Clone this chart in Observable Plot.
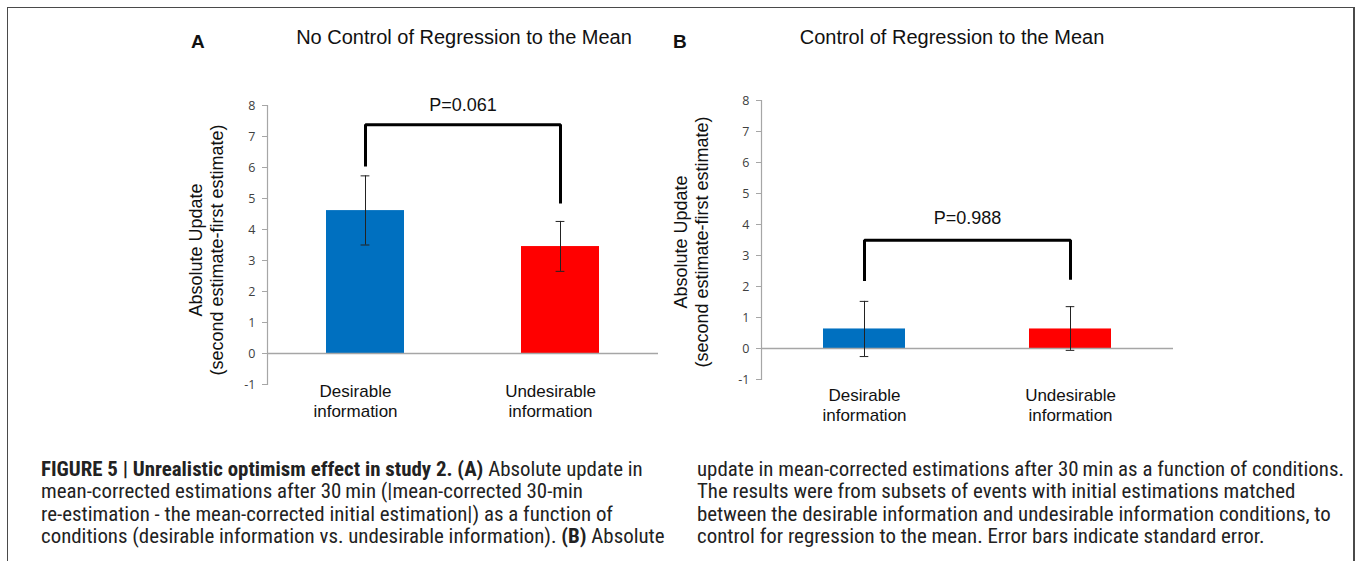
<!DOCTYPE html>
<html>
<head>
<meta charset="utf-8">
<script src="https://cdn.jsdelivr.net/npm/d3@7"></script>
<script src="https://cdn.jsdelivr.net/npm/@observablehq/plot@0.6"></script>
<style>
  body { margin: 0; background: #fff; }
  #page { position: relative; width: 1357px; height: 561px; overflow: hidden; background: #fff;
          font-family: "Liberation Sans", Arial, sans-serif; color: #111; }
  #frame { position: absolute; left: 7px; top: 7px; width: 1345px; height: 620px;
           border: 1.5px solid #4a4a4a; border-right-width: 2px; }
  .panel { position: absolute; top: 0; }
  .letter { position: absolute; font-weight: bold; font-size: 19px; transform: translateY(-50%); }
  .title { position: absolute; font-size: 20px; transform: translate(-50%, -50%); white-space: nowrap; }
  .cap { position: absolute; top: 458px; font-family: "Liberation Sans Narrow", "Roboto Condensed", "DejaVu Sans Condensed", "Liberation Sans", sans-serif;
         font-size: 20.9px; line-height: 22.4px; white-space: nowrap; color: #222; }
  .cap b { font-weight: bold; }
</style>
</head>
<body>
<div id="page">
  <div id="frame"></div>
  <div id="panelA" class="panel" style="left:0px"></div>
  <div id="panelB" class="panel" style="left:680px"></div>
  <div class="letter" style="left:191px; top:42px">A</div>
  <div class="title" style="left:464px; top:37px">No Control of Regression to the Mean</div>
  <div class="letter" style="left:673px; top:42px">B</div>
  <div class="title" style="left:952px; top:37px">Control of Regression to the Mean</div>
  <div class="cap" style="left:41px"><b>FIGURE 5 | Unrealistic optimism effect in study 2. (A)</b> Absolute update in<br>mean-corrected estimations after 30&#8201;min (|mean-corrected 30-min<br>re-estimation - the mean-corrected initial estimation|) as a function of<br>conditions (desirable information vs. undesirable information). <b>(B)</b> Absolute</div>
  <div class="cap" style="left:697px">update in mean-corrected estimations after 30&#8201;min as a function of conditions.<br>The results were from subsets of events with initial estimations matched<br>between the desirable information and undesirable information conditions, to<br>control for regression to the mean. Error bars indicate standard error.</div>
</div>
<script>
// ---------- data ----------
const categories = ["Desirable information", "Undesirable information"];
const categoryLabels = ["Desirable\ninformation", "Undesirable\ninformation"];
const yTicks = [-1, 0, 1, 2, 3, 4, 5, 6, 7, 8];
const yLabel = "Absolute Update\n(second estimate-first estimate)";

// Panel A: No control of regression to the mean
const meansA = [4.61, 3.45];
const errLowA = [3.50, 2.65];
const errHighA = [5.73, 4.26];
const bracketA = { label: "P=0.061", leftEnd: 6.03, top: 7.38, rightEnd: 4.84, labelY: 8.0 };

// Panel B: Control of regression to the mean
const meansB = [0.63, 0.63];
const errLowB = [-0.26, -0.06];
const errHighB = [1.52, 1.35];
const bracketB = { label: "P=0.988", leftEnd: 2.18, top: 3.49, rightEnd: 2.22, labelY: 4.19 };

const barColors = ["#0070C0", "#FF0000"];

// ---------- chart ----------
function panel(means, lows, highs, br, o) {
  const rows = categories.map((c, i) => ({ cat: c, label: categoryLabels[i], mean: means[i], lo: lows[i], hi: highs[i] }));
  const bracket = [
    { x: categories[0], y: br.leftEnd },
    { x: categories[0], y: br.top },
    { x: categories[1], y: br.top },
    { x: categories[1], y: br.rightEnd }
  ];
  const H = 440;
  const plotW = o.width - o.ml - o.mr;
  const step = plotW / 2;
  const bw = step * 0.4;
  const capInset = (bw - 9) / 2;
  return Plot.plot({
    width: o.width, height: H,
    marginLeft: o.ml, marginRight: o.mr, marginTop: o.mt, marginBottom: H - o.yBottom,
    style: { fontFamily: "'Liberation Sans', Arial, sans-serif", background: "transparent", overflow: "visible", color: "#000" },
    x: { type: "band", domain: categories, paddingInner: 0.6, paddingOuter: 0.3, axis: null },
    y: { domain: [-1, 8], axis: null },
    color: { domain: categories, range: barColors },
    marks: [
      Plot.frame({ anchor: "left", stroke: "#a6a6a6", strokeWidth: 1.2 }),
      Plot.axisY({ ticks: yTicks, tickSize: 5, stroke: "#a6a6a6", tickFormat: () => "" }),
      Plot.text(yTicks, { y: d => d, text: d => String(d), frameAnchor: "left", textAnchor: "end", dx: -12,
                          fontSize: 12.5, fontFamily: "'Open Sans', sans-serif", fill: "#404040" }),
      Plot.barY(rows, { x: "cat", y: "mean", fill: "cat" }),
      Plot.ruleY([0], { stroke: "#a6a6a6", strokeWidth: 1.5 }),
      Plot.ruleX(rows, { x: "cat", y1: "lo", y2: "hi", stroke: "#222", strokeWidth: 1 }),
      Plot.tickY(rows, { x: "cat", y: "lo", insetLeft: capInset, insetRight: capInset, stroke: "#222", strokeWidth: 1 }),
      Plot.tickY(rows, { x: "cat", y: "hi", insetLeft: capInset, insetRight: capInset, stroke: "#222", strokeWidth: 1 }),
      Plot.line(bracket, { x: "x", y: "y", stroke: "#000", strokeWidth: 3, strokeLinejoin: "miter", strokeLinecap: "butt" }),
      Plot.text([br.label], { text: d => d, y: br.labelY, fontSize: 18, fill: "#111" }),
      Plot.text(rows, { x: "cat", y: -1, text: "label", lineAnchor: "top", dx: o.labelDx, dy: o.labelDy,
                        fontSize: 17, lineHeight: 1.2, fill: "#111" }),
      Plot.text([yLabel], { text: d => d, frameAnchor: "left", textAnchor: "middle", lineAnchor: "middle", rotate: -90,
                            dx: o.yLabelDx, dy: o.yLabelDy, fontSize: 18, lineHeight: 1.17, fill: "#111" })
    ]
  });
}

document.getElementById("panelA").append(
  panel(meansA, errLowA, errHighA, bracketA,
        { width: 680, ml: 267, mr: 22, mt: 105, yBottom: 384, labelDx: -10, labelDy: -2, yLabelDx: -62, yLabelDy: 5 })
);
document.getElementById("panelB").append(
  panel(meansB, errLowB, errHighB, bracketB,
        { width: 677, ml: 81, mr: 184, mt: 100, yBottom: 379, labelDx: 0, labelDy: 7, yLabelDx: -71, yLabelDy: 2 })
);
</script>
</body>
</html>
